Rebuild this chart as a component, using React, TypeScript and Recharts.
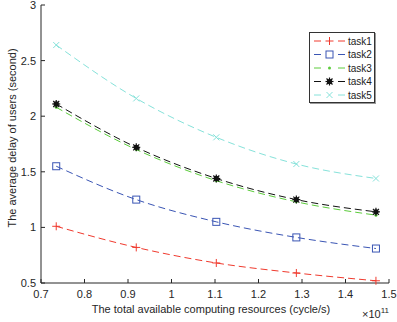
import React from "react";
import { LineChart, Line, XAxis, YAxis, Label } from "recharts";

const xValues = [0.735, 0.919, 1.103, 1.287, 1.47];
const task1 = [1.01, 0.82, 0.68, 0.59, 0.52];
const task2 = [1.55, 1.25, 1.05, 0.91, 0.81];
const task3 = [2.08, 1.7, 1.42, 1.23, 1.11];
const task4 = [2.11, 1.72, 1.44, 1.25, 1.14];
const task5 = [2.64, 2.16, 1.81, 1.57, 1.44];
const xTicks = [0.7, 0.8, 0.9, 1, 1.1, 1.2, 1.3, 1.4, 1.5];
const yTicks = [0.5, 1, 1.5, 2, 2.5, 3];

const rows = xValues.map((x, i) => ({
  x,
  task1: task1[i],
  task2: task2[i],
  task3: task3[i],
  task4: task4[i],
  task5: task5[i],
}));

const FONT = "'Liberation Sans', Arial, sans-serif";
const INK = "#262626";

type Marker = "plus" | "square" | "dot" | "star" | "cross";

const series: { key: string; color: string; marker: Marker }[] = [
  { key: "task1", color: "#f03a2e", marker: "plus" },
  { key: "task2", color: "#3a55b4", marker: "square" },
  { key: "task3", color: "#5ccc3c", marker: "dot" },
  { key: "task4", color: "#111111", marker: "star" },
  { key: "task5", color: "#86e2da", marker: "cross" },
];

function MarkerShape({ cx, cy, kind, color }: { cx: number; cy: number; kind: Marker; color: string }) {
  const r = 4;
  if (kind === "plus")
    return (
      <g stroke={color} strokeWidth={1}>
        <line x1={cx - r} y1={cy} x2={cx + r} y2={cy} />
        <line x1={cx} y1={cy - r} x2={cx} y2={cy + r} />
      </g>
    );
  if (kind === "square")
    return <rect x={cx - 3.5} y={cy - 3.5} width={7} height={7} fill="none" stroke={color} strokeWidth={1} />;
  if (kind === "dot") return <circle cx={cx} cy={cy} r={1.5} fill={color} />;
  if (kind === "star")
    return (
      <g stroke={color} strokeWidth={1.2}>
        <line x1={cx - r} y1={cy} x2={cx + r} y2={cy} />
        <line x1={cx} y1={cy - r} x2={cx} y2={cy + r} />
        <line x1={cx - 3} y1={cy - 3} x2={cx + 3} y2={cy + 3} />
        <line x1={cx - 3} y1={cy + 3} x2={cx + 3} y2={cy - 3} />
        <circle cx={cx} cy={cy} r={2} fill={color} />
      </g>
    );
  return (
    <g stroke={color} strokeWidth={1}>
      <line x1={cx - 3} y1={cy - 3} x2={cx + 3} y2={cy + 3} />
      <line x1={cx - 3} y1={cy + 3} x2={cx + 3} y2={cy - 3} />
    </g>
  );
}

function XTick(props: any) {
  const { x, y, payload } = props;
  return (
    <g>
      <line x1={x} y1={y} x2={x} y2={y - 4} stroke={INK} />
      <text x={x} y={y + 15} textAnchor="middle" fontSize={11} fill={INK} fontFamily={FONT}>
        {String(payload.value)}
      </text>
    </g>
  );
}

function YTick(props: any) {
  const { x, y, payload } = props;
  return (
    <g>
      <line x1={x} y1={y} x2={x + 4} y2={y} stroke={INK} />
      <text x={x - 5} y={y + 4} textAnchor="end" fontSize={11} fill={INK} fontFamily={FONT}>
        {String(payload.value)}
      </text>
    </g>
  );
}

function LegendBox() {
  return (
    <div
      style={{
        position: "absolute",
        left: 309,
        top: 32,
        width: 64,
        height: 69,
        border: "1px solid #333",
        boxShadow: "1px 1px 0 #999",
        background: "#fff",
      }}
    >
      <svg width={64} height={69} style={{ display: "block" }}>
        {series.map((s, i) => {
          const y = 8 + i * 13.5;
          return (
            <g key={s.key}>
              <line x1={4} y1={y} x2={35} y2={y} stroke={s.color} strokeDasharray="7 17 7" />
              <MarkerShape cx={19.5} cy={y} kind={s.marker} color={s.color} />
              <text x={38} y={y + 3.5} fontSize={10} fill="#222" fontFamily={FONT}>
                {s.key}
              </text>
            </g>
          );
        })}
      </svg>
    </div>
  );
}

export default function App() {
  return (
    <div style={{ position: "absolute", left: 0, top: 0, width: 397, height: 322, background: "#fff" }}>
      <LineChart width={397} height={322} data={rows} margin={{ top: 5, right: 8, bottom: 0, left: 0 }}>
        <XAxis
          dataKey="x"
          type="number"
          domain={[0.7, 1.5]}
          ticks={xTicks}
          tickLine={false}
          tickSize={0}
          tickMargin={0}
          tick={<XTick />}
          height={39}
          stroke={INK}
          interval={0}
        >
          <Label
            content={(p: any) => {
              const vb = p.viewBox;
              return (
                <text x={vb.x + vb.width / 2 - 4} y={313} textAnchor="middle" fontSize={11} fill={INK} fontFamily={FONT}>
                  The total available computing resources (cycle/s)
                </text>
              );
            }}
          />
        </XAxis>
        <YAxis
          type="number"
          domain={[0.5, 3]}
          ticks={yTicks}
          tickLine={false}
          tickSize={0}
          tickMargin={0}
          tick={<YTick />}
          width={41}
          stroke={INK}
          interval={0}
        >
          <Label
            content={(p: any) => {
              const vb = p.viewBox;
              const cy = vb.y + vb.height / 2 - 6;
              return (
                <text
                  x={16}
                  y={cy}
                  transform={`rotate(-90 16 ${cy})`}
                  textAnchor="middle"
                  fontSize={11}
                  fill={INK}
                  fontFamily={FONT}
                >
                  The average delay of users (second)
                </text>
              );
            }}
          />
        </YAxis>
        {series.map((s) => (
          <Line
            key={s.key}
            dataKey={s.key}
            type="monotone"
            stroke={s.color}
            strokeWidth={1}
            strokeDasharray="7 4"
            isAnimationActive={false}
            dot={(p: any) => <MarkerShape key={s.key + p.index} cx={p.cx} cy={p.cy} kind={s.marker} color={s.color} />}
          />
        ))}
      </LineChart>
      <LegendBox />
      <div
        style={{
          position: "absolute",
          left: 362,
          top: 304,
          fontFamily: FONT,
          fontSize: 11,
          color: INK,
          lineHeight: "14px",
        }}
      >
        ×10<sup style={{ fontSize: 8, verticalAlign: "5px" }}>11</sup>
      </div>
    </div>
  );
}
